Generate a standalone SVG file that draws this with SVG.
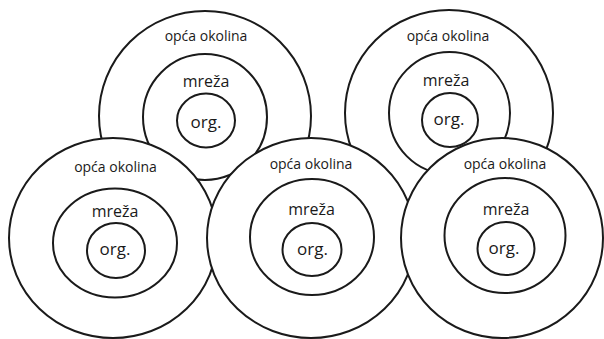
<svg xmlns="http://www.w3.org/2000/svg" width="604" height="339" viewBox="0 0 604 339">
  <style>
    .ring { fill: #ffffff; stroke: #1a1a1a; stroke-width: 2; }
    .inner { fill: none; stroke: #1a1a1a; stroke-width: 2; }
    text { font-family: "Open Sans", "Noto Sans", "DejaVu Sans", sans-serif; fill: #1a1a1a; text-anchor: middle; }
    .t1 { font-size: 14px; }
    .t2 { font-size: 16px; }
    .t3 { font-size: 17px; }
  </style>
  <rect width="604" height="339" fill="#ffffff"/>

  <g id="node-A">
    <ellipse class="ring" cx="205" cy="116" rx="106" ry="105"/>
    <ellipse class="inner" cx="205" cy="117" rx="62" ry="63"/>
    <ellipse class="inner" cx="206" cy="120.5" rx="29" ry="27"/>
    <text class="t1" x="206" y="40.5">opća okolina</text>
    <text class="t2" x="206" y="87">mreža</text>
    <text class="t3" x="206" y="128">org.</text>
  </g>

  <g id="node-B">
    <ellipse class="ring" cx="449" cy="113" rx="104" ry="103"/>
    <ellipse class="inner" cx="449.5" cy="113" rx="60.5" ry="61"/>
    <ellipse class="inner" cx="450" cy="120" rx="28" ry="27"/>
    <text class="t1" x="448" y="40.5">opća okolina</text>
    <text class="t2" x="446" y="85.5">mreža</text>
    <text class="t3" x="449" y="125">org.</text>
  </g>

  <g id="node-C">
    <ellipse class="ring" cx="113" cy="238" rx="104" ry="100"/>
    <ellipse class="inner" cx="115" cy="243" rx="62" ry="54.5"/>
    <ellipse class="inner" cx="116" cy="250.5" rx="29" ry="27.5"/>
    <text class="t1" x="115.5" y="172">opća okolina</text>
    <text class="t2" x="115" y="217">mreža</text>
    <text class="t3" x="115" y="255">org.</text>
  </g>

  <g id="node-D">
    <ellipse class="ring" cx="311" cy="238" rx="104" ry="100"/>
    <ellipse class="inner" cx="312" cy="237" rx="62" ry="58"/>
    <ellipse class="inner" cx="312" cy="249.5" rx="29.5" ry="26.5"/>
    <text class="t1" x="311" y="169">opća okolina</text>
    <text class="t2" x="311.5" y="215">mreža</text>
    <text class="t3" x="312.5" y="255">org.</text>
  </g>

  <g id="node-E">
    <ellipse class="ring" cx="502" cy="238" rx="101" ry="100"/>
    <ellipse class="inner" cx="505" cy="235.5" rx="60.5" ry="57.5"/>
    <ellipse class="inner" cx="506" cy="248.5" rx="28.5" ry="26.5"/>
    <text class="t1" x="505" y="169">opća okolina</text>
    <text class="t2" x="506" y="214.5">mreža</text>
    <text class="t3" x="504" y="254">org.</text>
  </g>
</svg>
